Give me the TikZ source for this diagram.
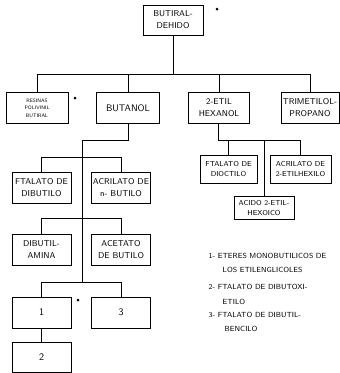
\documentclass[tikz,border=0pt]{standalone}
\usepackage{tikz}
\usetikzlibrary{positioning}

\begin{document}
\begin{tikzpicture}[x=1pt, y=-1pt, node distance=91pt, line width=0.8pt,
    prod/.style={rectangle, draw, align=center, inner sep=1pt, minimum width=60pt, minimum height=31pt, font=\sffamily\fontsize{8.5}{12}\selectfont},
    smalltext/.style={font=\sffamily\fontsize{7.2}{10.5}\selectfont},
    tinytext/.style={font=\sffamily\fontsize{5}{7.5}\selectfont},
    note/.style={anchor=west, align=left, font=\sffamily\fontsize{7.4}{14.5}\selectfont},
    dot/.style={circle, fill, inner sep=0pt, minimum size=3pt}]
    \useasboundingbox (0,0) rectangle (340,373);

    \node (ald) [prod, minimum height=30pt] at (173,20) {BUTIRAL-\\DEHIDO};
    \node (resinas) [prod, tinytext, minimum width=62pt] at (37,108) {RESINAS\\POLIVINIL\\BUTIRAL};
    \node (butanol) [prod, right of=resinas, minimum width=63pt, font=\sffamily\fontsize{9.5}{12}\selectfont] {BUTANOL};
    \node (hexanol) [prod, right of=butanol, minimum width=61pt] {2-ETIL\\HEXANOL};
    \node (trimetilol) [prod, right of=hexanol, minimum width=58pt] {TRIMETILOL-\\PROPANO};

    \node (ftdib) [prod, minimum width=59pt] at (41.5,187.5) {FTALATO DE\\DIBUTILO};
    \node (acrbut) [prod, right of=ftdib, node distance=79.5pt, minimum width=59pt] {ACRILATO DE\\n- BUTILO};
    \node (dibam) [prod, below of=ftdib, node distance=62pt, minimum width=59pt] {DIBUTIL-\\AMINA};
    \node (acebut) [prod, right of=dibam, node distance=79.5pt, minimum width=59pt] {ACETATO\\DE BUTILO};
    \node (one) [prod, below of=dibam, node distance=63pt, minimum width=59pt, font=\sffamily\fontsize{10}{12}\selectfont] {1};
    \node (three) [prod, right of=one, node distance=79.5pt, minimum width=59pt, font=\sffamily\fontsize{10}{12}\selectfont] {3};
    \node (two) [prod, below of=one, node distance=45pt, minimum width=59pt, minimum height=30pt, font=\sffamily\fontsize{10}{12}\selectfont] {2};

    \node (ftdioc) [prod, smalltext, minimum width=57pt, minimum height=28pt] at (228.5,169) {FTALATO DE\\DIOCTILO};
    \node (acrhex) [prod, smalltext, right of=ftdioc, node distance=72pt, minimum width=61pt, minimum height=28pt] {ACRILATO DE\\2-ETILHEXILO};
    \node (acido) [prod, smalltext, minimum width=60pt, minimum height=23pt] at (264,208) {ACIDO 2-ETIL-\\HEXOICO};

    \node (dotA) [dot] at (217,9) {};
    \node (dotB) [dot] at (75,98) {};
    \node (dotC) [dot] at (78,300) {};

    \node (leg1) [note] at (205,263) {1- ETERES MONOBUTILICOS DE\\\hspace*{14pt}LOS ETILENGLICOLES};
    \node (leg2) [note] at (205,294.5) {2- FTALATO DE DIBUTOXI-\\\hspace*{14pt}ETILO};
    \node (leg3) [note] at (205,322) {3- FTALATO DE DIBUTIL-\\\hspace*{16pt}BENCILO};

    \coordinate (busA) at (0,74);
    \coordinate (trunk) at (82,140);
    \coordinate (busB) at (0,157);
    \coordinate (busC) at (0,218);
    \coordinate (busD) at (0,282);
    \coordinate (hexbus) at (218,140);

    \draw (ald) -- (ald |- busA);
    \draw (resinas) -- (resinas |- busA) -- (trimetilol |- busA) -- (trimetilol);
    \draw (butanol) -- (butanol |- busA);
    \draw (hexanol) -- (hexanol |- busA);

    \draw (butanol) |- (trunk) -- (trunk |- busD);
    \draw (ftdib) -- (ftdib |- busB) -- (acrbut |- busB) -- (acrbut);
    \draw (dibam) -- (dibam |- busC) -- (acebut |- busC) -- (acebut);
    \draw (one) -- (one |- busD) -- (three |- busD) -- (three);
    \draw (one) -- (two);

    \draw (hexbus |- hexanol.south) -- (hexbus) -- (acrhex |- hexbus) -- (acrhex);
    \draw (ftdioc) -- (ftdioc |- hexbus);
    \draw (acido) -- (acido |- hexbus);
\end{tikzpicture}
\end{document}
